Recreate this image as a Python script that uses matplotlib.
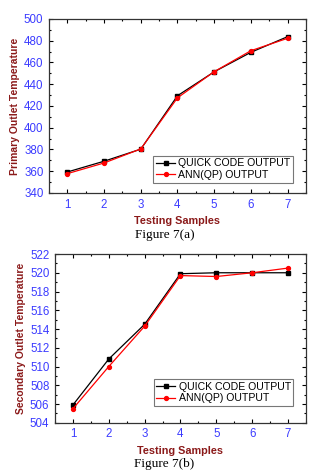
import matplotlib
matplotlib.use("Agg")
import matplotlib.pyplot as plt
from matplotlib.ticker import MultipleLocator

samples = [1, 2, 3, 4, 5, 6, 7]

# Figure 7(a) - primary outlet temperature
primary_quick = [359.3, 369.2, 380.3, 429.4, 451.4, 469.3, 483.7]
primary_ann = [357.8, 367.6, 380.5, 427.5, 451.5, 470.8, 482.2]

# Figure 7(b) - secondary outlet temperature
secondary_quick = [505.9, 510.8, 514.5, 519.9, 520.0, 520.0, 520.0]
secondary_ann = [505.5, 510.0, 514.3, 519.7, 519.6, 520.0, 520.5]

labels = ["QUICK CODE OUTPUT", "ANN(QP) OUTPUT"]
tick_blue = "#3b3bff"
label_red = "#8b1a1a"

plt.rcParams["font.family"] = ["Liberation Sans", "DejaVu Sans"]

fig = plt.figure(figsize=(3.29, 4.73), dpi=100)
ax1 = fig.add_axes([0.149, 0.592, 0.781, 0.368])
ax2 = fig.add_axes([0.167, 0.106, 0.763, 0.357])


def style(ax, ylim, ystep, ylabel):
    ax.set_xlim(0.5, 7.5)
    ax.set_ylim(*ylim)
    ax.xaxis.set_major_locator(MultipleLocator(1))
    ax.xaxis.set_minor_locator(MultipleLocator(0.5))
    ax.yaxis.set_major_locator(MultipleLocator(ystep))
    ax.yaxis.set_minor_locator(MultipleLocator(ystep / 2))
    ax.tick_params(which="both", direction="in", top=True, right=True,
                   colors="black", labelcolor=tick_blue, labelsize=8.3, width=0.8)
    ax.tick_params(which="major", length=3, pad=4)
    ax.tick_params(which="minor", length=1.5)
    for s in ax.spines.values():
        s.set_linewidth(0.9)
        s.set_color("#333333")
    ax.set_xlabel("Testing Samples", color=label_red, fontweight="bold",
                  fontsize=7.8, labelpad=4)
    ax.set_ylabel(ylabel, color=label_red, fontweight="bold", fontsize=7.5,
                  labelpad=3)


ax1.plot(samples, primary_quick, color="black", marker="s", markersize=2.6, lw=0.9, label=labels[0])
ax1.plot(samples, primary_ann, color="red", marker="o", markersize=2.8, lw=0.9, label=labels[1])
style(ax1, (340, 500), 20, "Primary Outlet Temperature")

ax2.plot(samples, secondary_quick, color="black", marker="s", markersize=2.6, lw=0.9, label=labels[0])
ax2.plot(samples, secondary_ann, color="red", marker="o", markersize=2.8, lw=0.9, label=labels[1])
style(ax2, (504, 522), 2, "Secondary Outlet Temperature")

for ax, y in ((ax1, 0.06), (ax2, 0.10)):
    leg = ax.legend(loc="lower right", bbox_to_anchor=(0.95, y), fontsize=7.6,
                    frameon=True, fancybox=False, handlelength=1.8,
                    handletextpad=0.3, borderpad=0.25, labelspacing=0.15,
                    borderaxespad=0)
    leg.get_frame().set_edgecolor("#555555")
    leg.get_frame().set_linewidth(0.8)

fig.text(0.5, 1 - 235 / 473, "Figure 7(a)", ha="center", va="center",
         fontsize=9.5, family=["Liberation Serif"])
fig.text(0.5, 1 - 464 / 473, "Figure 7(b)", ha="center", va="center",
         fontsize=9.5, family=["Liberation Serif"])

fig.savefig("out.png", dpi=100)
